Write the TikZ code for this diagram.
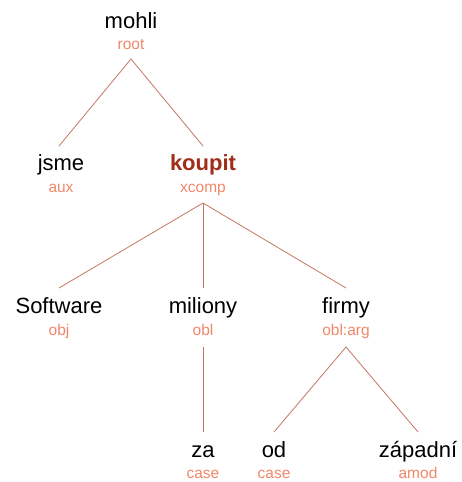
\documentclass[tikz,border=0pt]{standalone}
\usepackage{fontspec}
\setmainfont{Liberation Sans}
\definecolor{edgec}{RGB}{196,118,98}
\definecolor{labc}{RGB}{240,135,105}
\definecolor{headc}{RGB}{160,45,25}
\begin{document}
\begin{tikzpicture}[x=1pt,y=1pt,
  word/.style={inner sep=0pt,anchor=base,font=\fontsize{22}{22}\selectfont},
  dep/.style={inner sep=0pt,anchor=base,text=labc,font=\fontsize{15.5}{15.5}\selectfont},
  edge/.style={draw=edgec,line width=0.8pt}]
\useasboundingbox (0,0) rectangle (462,-482);
% words (baselines)
\node[word] (mohli) at (131,-28) {mohli};
\node[dep] (mohliL) at (131,-49) {root};
\node[word] (jsme) at (61,-170) {jsme};
\node[dep] (jsmeL) at (61,-192) {aux};
\node[word,font=\fontsize{22}{22}\selectfont\bfseries,text=headc] (koupit) at (203,-170) {koupit};
\node[dep] (koupitL) at (203,-192) {xcomp};
\node[word] (software) at (59,-313) {Software};
\node[dep] (softwareL) at (59,-335) {obj};
\node[word] (miliony) at (203,-313) {miliony};
\node[dep] (milionyL) at (203,-335) {obl};
\node[word] (firmy) at (346,-313) {firmy};
\node[dep] (firmyL) at (346,-335) {obl:arg};
\node[word] (za) at (203,-457) {za};
\node[dep] (zaL) at (203,-478) {case};
\node[word] (od) at (274,-457) {od};
\node[dep] (odL) at (274,-478) {case};
\node[word] (zapadni) at (418,-457) {západní};
\node[dep] (zapadniL) at (418,-478) {amod};
% connector ends
\coordinate (mohliB) at (131,-59);
\coordinate (jsmeT) at (59,-146);
\coordinate (koupitT) at (203,-146);
\coordinate (koupitB) at (203,-203);
\coordinate (softwareT) at (59,-288);
\coordinate (milionyT) at (203,-288);
\coordinate (firmyT) at (346,-288);
\coordinate (milionyB) at (203,-347);
\coordinate (firmyB) at (346,-347);
\coordinate (zaT) at (203,-432);
\coordinate (odT) at (274,-432);
\coordinate (zapadniT) at (418,-432);
\draw[edge] (jsmeT) -- (mohliB) -- (koupitT);
\draw[edge] (softwareT) -- (koupitB) -- (firmyT);
\draw[edge] (koupitB) -- (milionyT);
\draw[edge] (milionyB) -- (zaT);
\draw[edge] (odT) -- (firmyB) -- (zapadniT);
\end{tikzpicture}
\end{document}
